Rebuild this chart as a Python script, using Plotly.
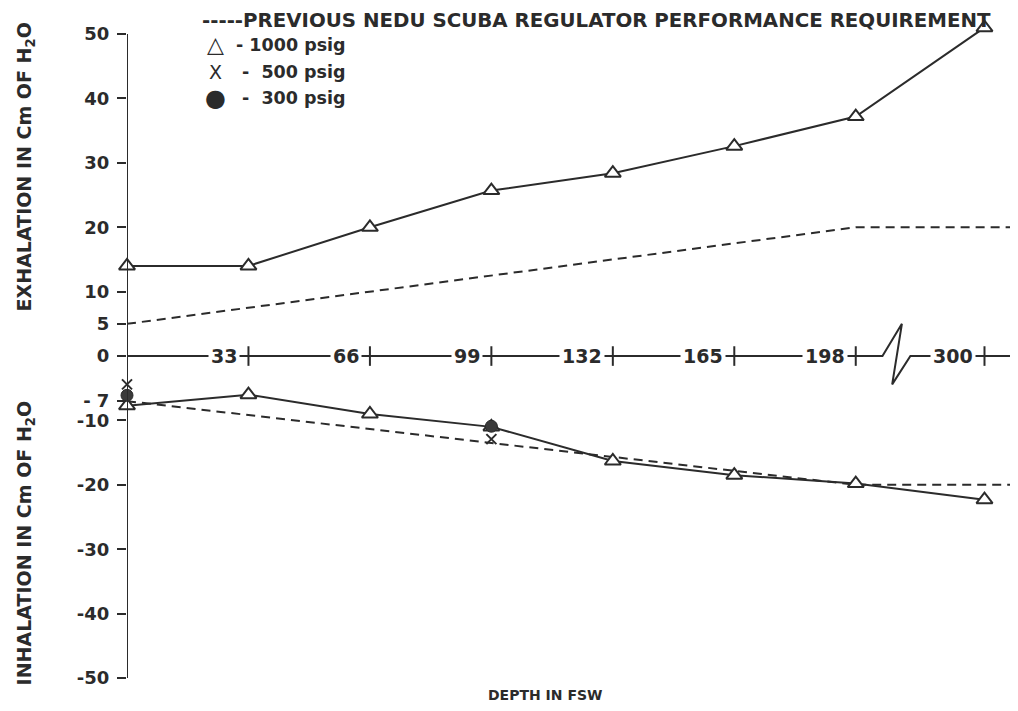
import plotly.graph_objects as go

# ---- data ----
depths = [0, 33, 66, 99, 132, 165, 198, 300]
depth_labels = ["33", "66", "99", "132", "165", "198", "300"]
exh_1000 = [14, 14, 20, 25.7, 28.4, 32.6, 37.2, 51]
inh_1000 = [-7.7, -6, -9, -11, -16.3, -18.5, -19.8, -22.3]
req_depths = [0, 198, 300]
req_exh = [5, 20, 20]
req_inh = [-7, -20, -20]
x500_depths = [0, 99]
inh_500 = [-4.4, -12.9]
x300_depths = [0, 99]
inh_300 = [-6.1, -10.9]
ytick_vals = [50, 40, 30, 20, 10, 5, 0, -7, -10, -20, -30, -40, -50]
ytick_text = ["50", "40", "30", "20", "10", "5", "0", "- 7", "-10", "-20", "-30", "-40", "-50"]

# ---- layout mapping: broken depth axis ----
STEP = 33.0
BREAK_POS = 7.06  # position used for 300 (beyond the axis break)
X_MAX = 7.27
Y_MIN, Y_MAX, Y_TOP = -50, 50, 52.5


def pos(d):
    return d / STEP if d <= 198 else BREAK_POS


def px(X):
    return (X - 127) / 883.0


def py(Y):
    return (678 - Y) / 660.0


INK = "#2b2b2b"
FONT = "DejaVu Sans"

fig = go.Figure()

# depth axis line at y=0 (with break)
p198 = pos(198)
zig_x = [0 - 0.07, p198 + 0.22, p198 + 0.38, p198 + 0.30, p198 + 0.45, X_MAX]
zig_y = [0, 0, 5, -4.4, 0, 0]
fig.add_trace(go.Scatter(x=zig_x, y=zig_y, mode="lines",
                         line=dict(color=INK, width=2), hoverinfo="skip",
                         cliponaxis=False, showlegend=False))
# tick marks on depth axis
fig.add_trace(go.Scatter(x=[pos(d) for d in depths[1:]], y=[0] * (len(depths) - 1),
                         mode="markers",
                         marker=dict(symbol="line-ns-open", size=14, color=INK,
                                     line=dict(color=INK, width=2)),
                         hoverinfo="skip", showlegend=False))

# requirement dashed lines
fig.add_trace(go.Scatter(x=[pos(d) for d in req_depths] + [X_MAX], y=req_exh + [req_exh[-1]],
                         mode="lines", line=dict(color=INK, width=2, dash="9px,6px"),
                         showlegend=False))
fig.add_trace(go.Scatter(x=[pos(d) for d in req_depths] + [X_MAX], y=req_inh + [req_inh[-1]],
                         mode="lines", line=dict(color=INK, width=2, dash="9px,6px"),
                         showlegend=False))

# 1000 psig
for vals in (exh_1000, inh_1000):
    fig.add_trace(go.Scatter(x=[pos(d) for d in depths], y=vals, mode="lines+markers",
                             line=dict(color=INK, width=2),
                             marker=dict(symbol="triangle-up", size=14, color="white",
                                         line=dict(color=INK, width=2)),
                             cliponaxis=False, showlegend=False))

# 300 psig (filled circle)
fig.add_trace(go.Scatter(x=[pos(d) for d in x300_depths], y=inh_300, mode="markers",
                         marker=dict(symbol="circle", size=12, color="#3a3a3a",
                                     line=dict(color=INK, width=1)),
                         cliponaxis=False, showlegend=False))
# 500 psig (X)
fig.add_trace(go.Scatter(x=[pos(d) for d in x500_depths], y=inh_500, mode="markers",
                         marker=dict(symbol="x-thin-open", size=10, color=INK,
                                     line=dict(color=INK, width=2)),
                         cliponaxis=False, showlegend=False))

annotations = []
# depth labels on the y=0 line
for d, lab in zip(depths[1:], depth_labels):
    annotations.append(dict(x=pos(d), y=0, xref="x", yref="y", text=lab,
                            xanchor="right", yanchor="middle", xshift=-8,
                            showarrow=False, bgcolor="white", borderpad=2,
                            font=dict(family=FONT, size=19, color=INK, weight="bold")))

# axis titles
annotations.append(dict(x=px(25), y=29.3, xref="paper", yref="y",
                        text="EXHALATION IN Cm OF H<sub>2</sub>O", textangle=-90,
                        showarrow=False, xanchor="center", yanchor="middle",
                        font=dict(family=FONT, size=19, color=INK, weight="bold")))
annotations.append(dict(x=px(25), y=-29.1, xref="paper", yref="y",
                        text="INHALATION IN Cm OF H<sub>2</sub>O", textangle=-90,
                        showarrow=False, xanchor="center", yanchor="middle",
                        font=dict(family=FONT, size=19, color=INK, weight="bold")))
annotations.append(dict(x=px(545), y=py(695), xref="paper", yref="paper",
                        text="DEPTH IN FSW", showarrow=False,
                        xanchor="center", yanchor="middle",
                        font=dict(family=FONT, size=14, color=INK, weight="bold")))

# legend block
annotations.append(dict(x=px(200), y=py(21), xref="paper", yref="paper",
                        text="-----PREVIOUS NEDU SCUBA REGULATOR PERFORMANCE REQUIREMENT",
                        showarrow=False, xanchor="left", yanchor="middle",
                        font=dict(family=FONT, size=19.8, color=INK, weight="bold")))
legend_rows = [("△", 22, "- 1000 psig", 45), ("X", 19, "-  500 psig", 72), ("●", 24, "-  300 psig", 98)]
for sym, ssize, txt, yy in legend_rows:
    annotations.append(dict(x=px(215), y=py(yy), xref="paper", yref="paper",
                            text=sym, showarrow=False, xanchor="center", yanchor="middle",
                            font=dict(family=FONT, size=ssize, color=INK)))
    annotations.append(dict(x=px(348), y=py(yy), xref="paper", yref="paper",
                            text=txt, showarrow=False, xanchor="right", yanchor="middle",
                            font=dict(family=FONT, size=17.5, color=INK, weight="bold")))

# y axis spine from -50 to 50
shapes = [dict(type="line", xref="x", yref="y", x0=0, x1=0, y0=Y_MIN, y1=Y_MAX,
               line=dict(color=INK, width=2))]

fig.update_layout(
    width=1010, height=703,
    margin=dict(l=119, r=8, t=10, b=33),
    paper_bgcolor="white", plot_bgcolor="white",
    xaxis=dict(range=[0, X_MAX], visible=False, fixedrange=True),
    yaxis=dict(range=[Y_MIN, Y_TOP], tickvals=ytick_vals, ticktext=ytick_text,
               ticks="outside", ticklen=9, tickwidth=2, tickcolor=INK,
               ticklabelstandoff=4,
               showline=False, showgrid=False,
               zeroline=False, tickfont=dict(family=FONT, size=18, color=INK, weight="bold")),
    annotations=annotations,
    shapes=shapes,
    showlegend=False,
)

fig.write_html("out.html")
